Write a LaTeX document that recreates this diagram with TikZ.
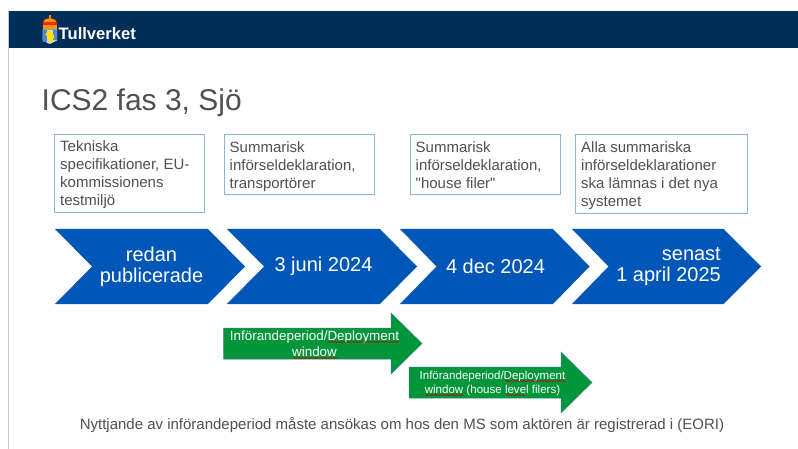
\documentclass[tikz,border=0pt]{standalone}
\usepackage{fontspec}
\setmainfont{Liberation Sans}
\newfontfamily\plainq{Liberation Sans}
\usetikzlibrary{decorations.pathmorphing}
\definecolor{navy}{HTML}{002F5A}
\definecolor{chev}{HTML}{0057B8}
\definecolor{grn}{HTML}{009639}
\definecolor{boxline}{HTML}{8DB5D5}
\definecolor{txt}{HTML}{505050}
\definecolor{greenline}{HTML}{3F7F8F}
\tikzset{
  x=1pt,y=-1pt,
  infobox/.style={draw=boxline,line width=1pt,fill=white},
  infotext/.style={anchor=north west,align=left,text=txt,font=\fontsize{15}{18}\selectfont,inner sep=0pt},
  chevron/.style={fill=chev,draw=none},
  chevtext/.style={text=white,align=center,font=\fontsize{20}{21}\selectfont,inner sep=0pt},
  grnarrow/.style={fill=grn,draw=greenline,line width=.5pt},
  grntext/.style={text=white,align=center,inner sep=0pt},
  squig/.style={draw=red!75!black,line width=.5pt,decorate,decoration={snake,amplitude=.5pt,segment length=3pt}}
}
\begin{document}
\begin{tikzpicture}
\useasboundingbox (0,0) rectangle (798,449);
\fill[white] (0,0) rectangle (798,449);
% page edge and header
\fill[black!22] (8.2,11) rectangle (9.4,449);
\fill[navy] (9,11) rectangle (798,48);
% logo
\fill[white!80!chev] (42.5,29.5) -- (57,29.5) -- (57,40.5) -- (49.7,44) -- (42.5,40.5) -- cycle;
\fill[chev!70!white] (43,30) rectangle (47,42);
\fill[chev!70!white] (53,30) rectangle (56.5,40);
\fill[yellow!85!orange] (47.5,31) -- (52.5,31) -- (54,37) -- (52.5,42) -- (47.5,42) -- (48.5,37) -- (45.5,35) -- cycle;
\fill[orange!90!yellow] (48.8,15.5) rectangle (50.6,19);
\fill[orange!85!yellow] (43.5,21) .. controls (44,17.5) and (55,17.5) .. (56,21) -- (56,22) -- (43.5,22) -- cycle;
\fill[red!70!orange] (42.5,22) rectangle (57,25.5);
\fill[orange!85!yellow] (42.5,25.5) rectangle (57,28.8);
% text of the logo
\node[anchor=base west,inner sep=0pt,text=white,font=\fontsize{16.6}{18}\bfseries\selectfont] (logo) at (58.5,39.5) {Tullverket};
% title
\node[anchor=base west,inner sep=0pt,text=txt,font=\fontsize{30}{32}\selectfont] (title) at (41.5,111) {ICS2 fas 3, Sjö};
% boxes
\draw[infobox] (54,134.5) rectangle (204,213);
\node[infotext] (t1) at (60,140.5) {Tekniska\\specifikationer, EU-\\kommissionens\\testmiljö};
\draw[infobox] (224,134.5) rectangle (374,195);
\node[infotext] (t2) at (229.5,141) {Summarisk\\införseldeklaration,\\transportörer};
\draw[infobox] (410,135) rectangle (560,195);
\node[infotext] (t3) at (415.5,141) {Summarisk\\införseldeklaration,\\{\plainq"}house filer{\plainq"}};
\draw[infobox] (575.5,135) rectangle (747,214);
\node[infotext] (t4) at (581,141.5) {Alla summariska\\införseldeklarationer\\ska lämnas i det nya\\systemet};
% chevrons
\fill[chevron] (55,229) -- (208,229) -- (245,266.5) -- (208,304) -- (55,304) -- (92,266.5) -- cycle;
\fill[chevron] (227,229) -- (380,229) -- (417,266.5) -- (380,304) -- (227,304) -- (264,266.5) -- cycle;
\fill[chevron] (400,229) -- (553,229) -- (589.5,266.5) -- (553,304) -- (400,304) -- (436.5,266.5) -- cycle;
\fill[chevron] (572,229) -- (723.5,229) -- (761,266.5) -- (723.5,304) -- (572,304) -- (608.5,266.5) -- cycle;
\node[chevtext] (c1) at (151.5,267) {redan\\publicerade};
\node[chevtext] (c2) at (323.5,266.5) {3 juni 2024};
\node[chevtext] (c3) at (495.5,266.5) {4 dec 2024};
\node[chevtext,align=right,anchor=east] (c4) at (721,267) {senast\\1 april 2025};
% green arrows
\path[grnarrow] (223.5,328) -- (391,328) -- (391,313) -- (422,343.5) -- (391,374) -- (391,359) -- (223.5,359) -- cycle;
\path[grnarrow] (409,367) -- (561,367) -- (561,352) -- (592,382.5) -- (561,413) -- (561,398) -- (409,398) -- cycle;
\node[grntext,font=\fontsize{13.4}{16}\selectfont] (g1) at (314.5,344) {Införandeperiod/Deployment\\window};
\node[grntext,font=\fontsize{11.55}{14.5}\selectfont] (g2) at (492.5,383.5) {Införandeperiod/Deployment\\window (house level filers)};
% spell-check marks
\coordinate (s1a) at (328,342); \coordinate (s1b) at (399,342);
\coordinate (s2a) at (293,358); \coordinate (s2b) at (338,358);
\coordinate (s3a) at (505,381); \coordinate (s3b) at (566,381);
\coordinate (s4a) at (425,395); \coordinate (s4b) at (464,395);
\coordinate (s5a) at (506,395); \coordinate (s5b) at (525,395);
\draw[squig] (s1a) -- (s1b);
\draw[squig] (s2a) -- (s2b);
\draw[squig] (s3a) -- (s3b);
\draw[squig] (s4a) -- (s4b);
\draw[squig] (s5a) -- (s5b);
% footer
\node[anchor=base,inner sep=0pt,text=txt,font=\fontsize{15}{17}\selectfont] (foot) at (402,429.5) {Nyttjande av införandeperiod måste ansökas om hos den MS som aktören är registrerad i (EORI)};
\end{tikzpicture}
\end{document}
